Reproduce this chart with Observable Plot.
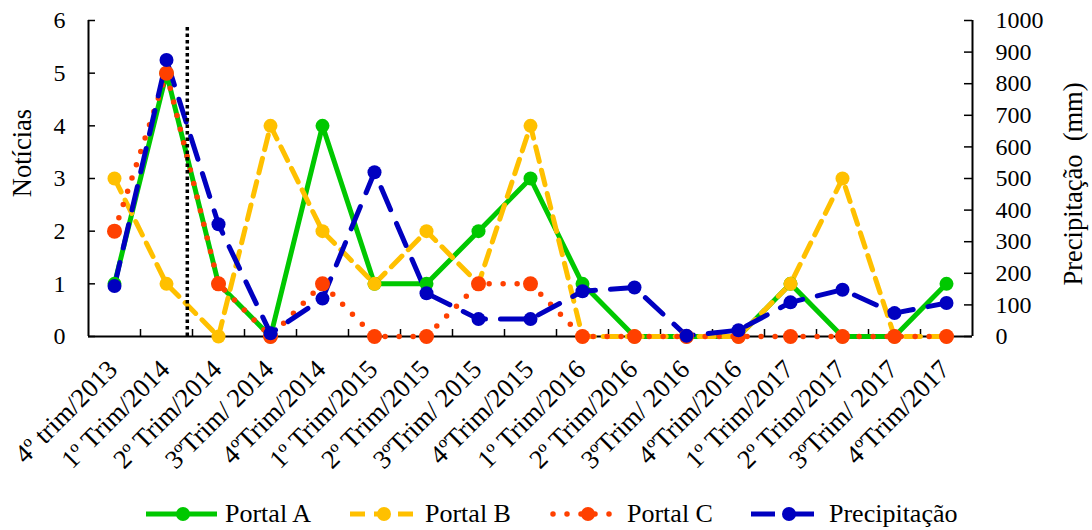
<!DOCTYPE html>
<html><head><meta charset="utf-8">
<script src="https://cdn.jsdelivr.net/npm/d3@7"></script>
<script src="https://cdn.jsdelivr.net/npm/@observablehq/plot@0.6"></script>
<style>
html,body{margin:0;padding:0;background:#fff;}
#chart{width:1092px;height:530px;position:relative;font-family:"Liberation Serif","Times New Roman",serif;}
#chart svg{display:block;}
</style></head><body><div id="chart"></div>
<script>
const categories = ["4º trim/2013","1º Trim/2014","2º Trim/2014","3ºTrim/ 2014","4ºTrim/2014","1º Trim/2015","2º Trim/2015","3ºTrim/ 2015","4ºTrim/2015","1º Trim/2016","2º Trim/2016","3ºTrim/ 2016","4ºTrim/2016","1º Trim/2017","2º Trim/2017","3ºTrim/ 2017","4ºTrim/2017"];
const portalA = [1,5,1,0,4,1,1,2,3,1,0,0,0,1,0,0,1];
const portalB = [3,1,0,4,2,1,2,1,4,0,0,0,0,1,3,0,0];
const portalC = [2,5,1,0,1,0,0,1,1,0,0,0,0,0,0,0,0];
const precipitacao = [160,875,355,10,120,520,137,55,55,143,155,2,20,108,148,74,106];
const noticiasTicks = [0,1,2,3,4,5,6];
const precipTicks = [0,100,200,300,400,500,600,700,800,900,1000];
const noticiasMax = 6;
const precipMax = 1000;
const eventPosition = 1.4;
const eventTop = 5.92;
const seriesNames = ["Portal A","Portal B","Portal C","Precipitação"];
const yLabelLeft = "Notícias";
const yLabelRight = "Precipitação\u00a0 (mm)";

const W = 1092, H = 490, mL = 88, mR = 120, mT = 20, mB = 154;
const plotW = W - mL - mR, plotH = H - mT - mB;
const FONT = '"Liberation Serif","Times New Roman",serif';
const colA = "#00c800", colB = "#ffc000", colC = "#ff4000", colP = "#0000c0";
const toLeft = p => p * noticiasMax / precipMax;

const rows = categories.map((c, i) => ({i, c, a: portalA[i], b: portalB[i], cc: portalC[i], p: toLeft(precipitacao[i])}));
const boundaries = d3.range(1, categories.length).map(k => k - 0.5);
const xMin = -0.5, xMax = categories.length - 0.5;

const chart = Plot.plot({
  width: W, height: H,
  marginLeft: mL, marginRight: mR, marginTop: mT, marginBottom: mB,
  style: {fontFamily: FONT, fontSize: "24px", background: "white", color: "black", overflow: "visible"},
  x: {type: "linear", domain: [xMin, xMax], axis: null},
  y: {domain: [0, noticiasMax], axis: null},
  marks: [
    // axis lines
    Plot.ruleX([xMin, xMax], {y1: 0, y2: noticiasMax, stroke: "black", strokeWidth: 2}),
    Plot.ruleY([0], {x1: xMin, x2: xMax, stroke: "black", strokeWidth: 2}),
    // inward ticks
    Plot.tickX(boundaries, {x: d => d, insetTop: plotH - 7, stroke: "black", strokeWidth: 1.5}),
    Plot.tickY(noticiasTicks, {y: d => d, insetRight: plotW - 7, stroke: "black", strokeWidth: 1.5}),
    Plot.tickY(precipTicks, {y: d => toLeft(d), insetLeft: plotW - 8, stroke: "black", strokeWidth: 1.5}),
    // tick labels
    Plot.text(noticiasTicks, {y: d => d, text: d => String(d), frameAnchor: "left", dx: -23, textAnchor: "end", fontSize: 24}),
    Plot.text(precipTicks, {y: d => toLeft(d), text: d => String(d), frameAnchor: "right", dx: 23, textAnchor: "start", fontSize: 24}),
    // series
    Plot.line(rows, {x: "i", y: "a", stroke: colA, strokeWidth: 5}),
    Plot.line(rows, {x: "i", y: "b", stroke: colB, strokeWidth: 5, strokeDasharray: "15 9"}),
    Plot.line(rows, {x: "i", y: "cc", stroke: colC, strokeWidth: 5.5, strokeDasharray: "0 14", strokeLinecap: "round"}),
    Plot.line(rows, {x: "i", y: "p", stroke: colP, strokeWidth: 5, strokeDasharray: "24 15"}),
    Plot.dot(rows, {x: "i", y: "a", r: 7, fill: colA}),
    Plot.dot(rows, {x: "i", y: "b", r: 7, fill: colB}),
    Plot.dot(rows, {x: "i", y: "cc", r: 7.5, fill: colC}),
    Plot.dot(rows, {x: "i", y: "p", r: 7, fill: colP}),
    // event marker
    Plot.ruleX([eventPosition], {y1: 0, y2: eventTop, stroke: "black", strokeWidth: 3.5, strokeDasharray: "3.5 3"})
  ]
});
document.getElementById("chart").appendChild(chart);

// rotated texts placed with the chart's own scales
const sx = chart.scale("x"), sy = chart.scale("y");
const svg = d3.select(chart);
const baseY = sy.apply(0), midY = (sy.apply(0) + sy.apply(noticiasMax)) / 2;
svg.append("g").attr("font-family", FONT).attr("font-size", 26.5).attr("text-anchor", "end")
  .selectAll("text").data(rows).join("text")
  .attr("transform", d => `translate(${sx.apply(d.i) + 5},${baseY + 35}) rotate(-45)`)
  .text(d => d.c);
svg.append("text").attr("font-family", FONT).attr("font-size", 26.5).attr("text-anchor", "middle").attr("dy", "0.32em")
  .attr("transform", `translate(${sx.apply(xMin) - 65},${midY - 25}) rotate(-90)`).text(yLabelLeft);
svg.append("text").attr("font-family", FONT).attr("font-size", 26.5).attr("text-anchor", "middle").attr("dy", "0.32em")
  .attr("transform", `translate(${sx.apply(xMax) + 102},${midY + 6}) rotate(-90)`).text(yLabelRight);

// legend below the plot
const legendItems = [
  {name: seriesNames[0], color: colA, dash: null, cap: "butt", sw: 5, x0: 146, x1: 217, mx: 183, tx: 225},
  {name: seriesNames[1], color: colB, dash: "15 9", cap: "butt", sw: 5, x0: 350, x1: 415, mx: 384, tx: 425},
  {name: seriesNames[2], color: colC, dash: "0 14", cap: "round", sw: 5.5, x0: 553, x1: 622, mx: 588, tx: 627},
  {name: seriesNames[3], color: colP, dash: "24 15", cap: "butt", sw: 5, x0: 751, x1: 818, mx: 789, tx: 829}
];
const lg = d3.select("#chart").append("svg").attr("width", W).attr("height", 40)
  .style("font-family", FONT).style("font-size", "26px");
const it = lg.selectAll("g").data(legendItems).join("g");
it.append("line").attr("x1", d => d.x0).attr("x2", d => d.x1).attr("y1", 24).attr("y2", 24)
  .attr("stroke", d => d.color).attr("stroke-width", d => d.sw)
  .attr("stroke-dasharray", d => d.dash).attr("stroke-linecap", d => d.cap);
it.append("circle").attr("cx", d => d.mx).attr("cy", 24).attr("r", 7).attr("fill", d => d.color);
it.append("text").attr("x", d => d.tx).attr("y", 24).attr("dy", "0.32em").text(d => d.name);
</script></body></html>
